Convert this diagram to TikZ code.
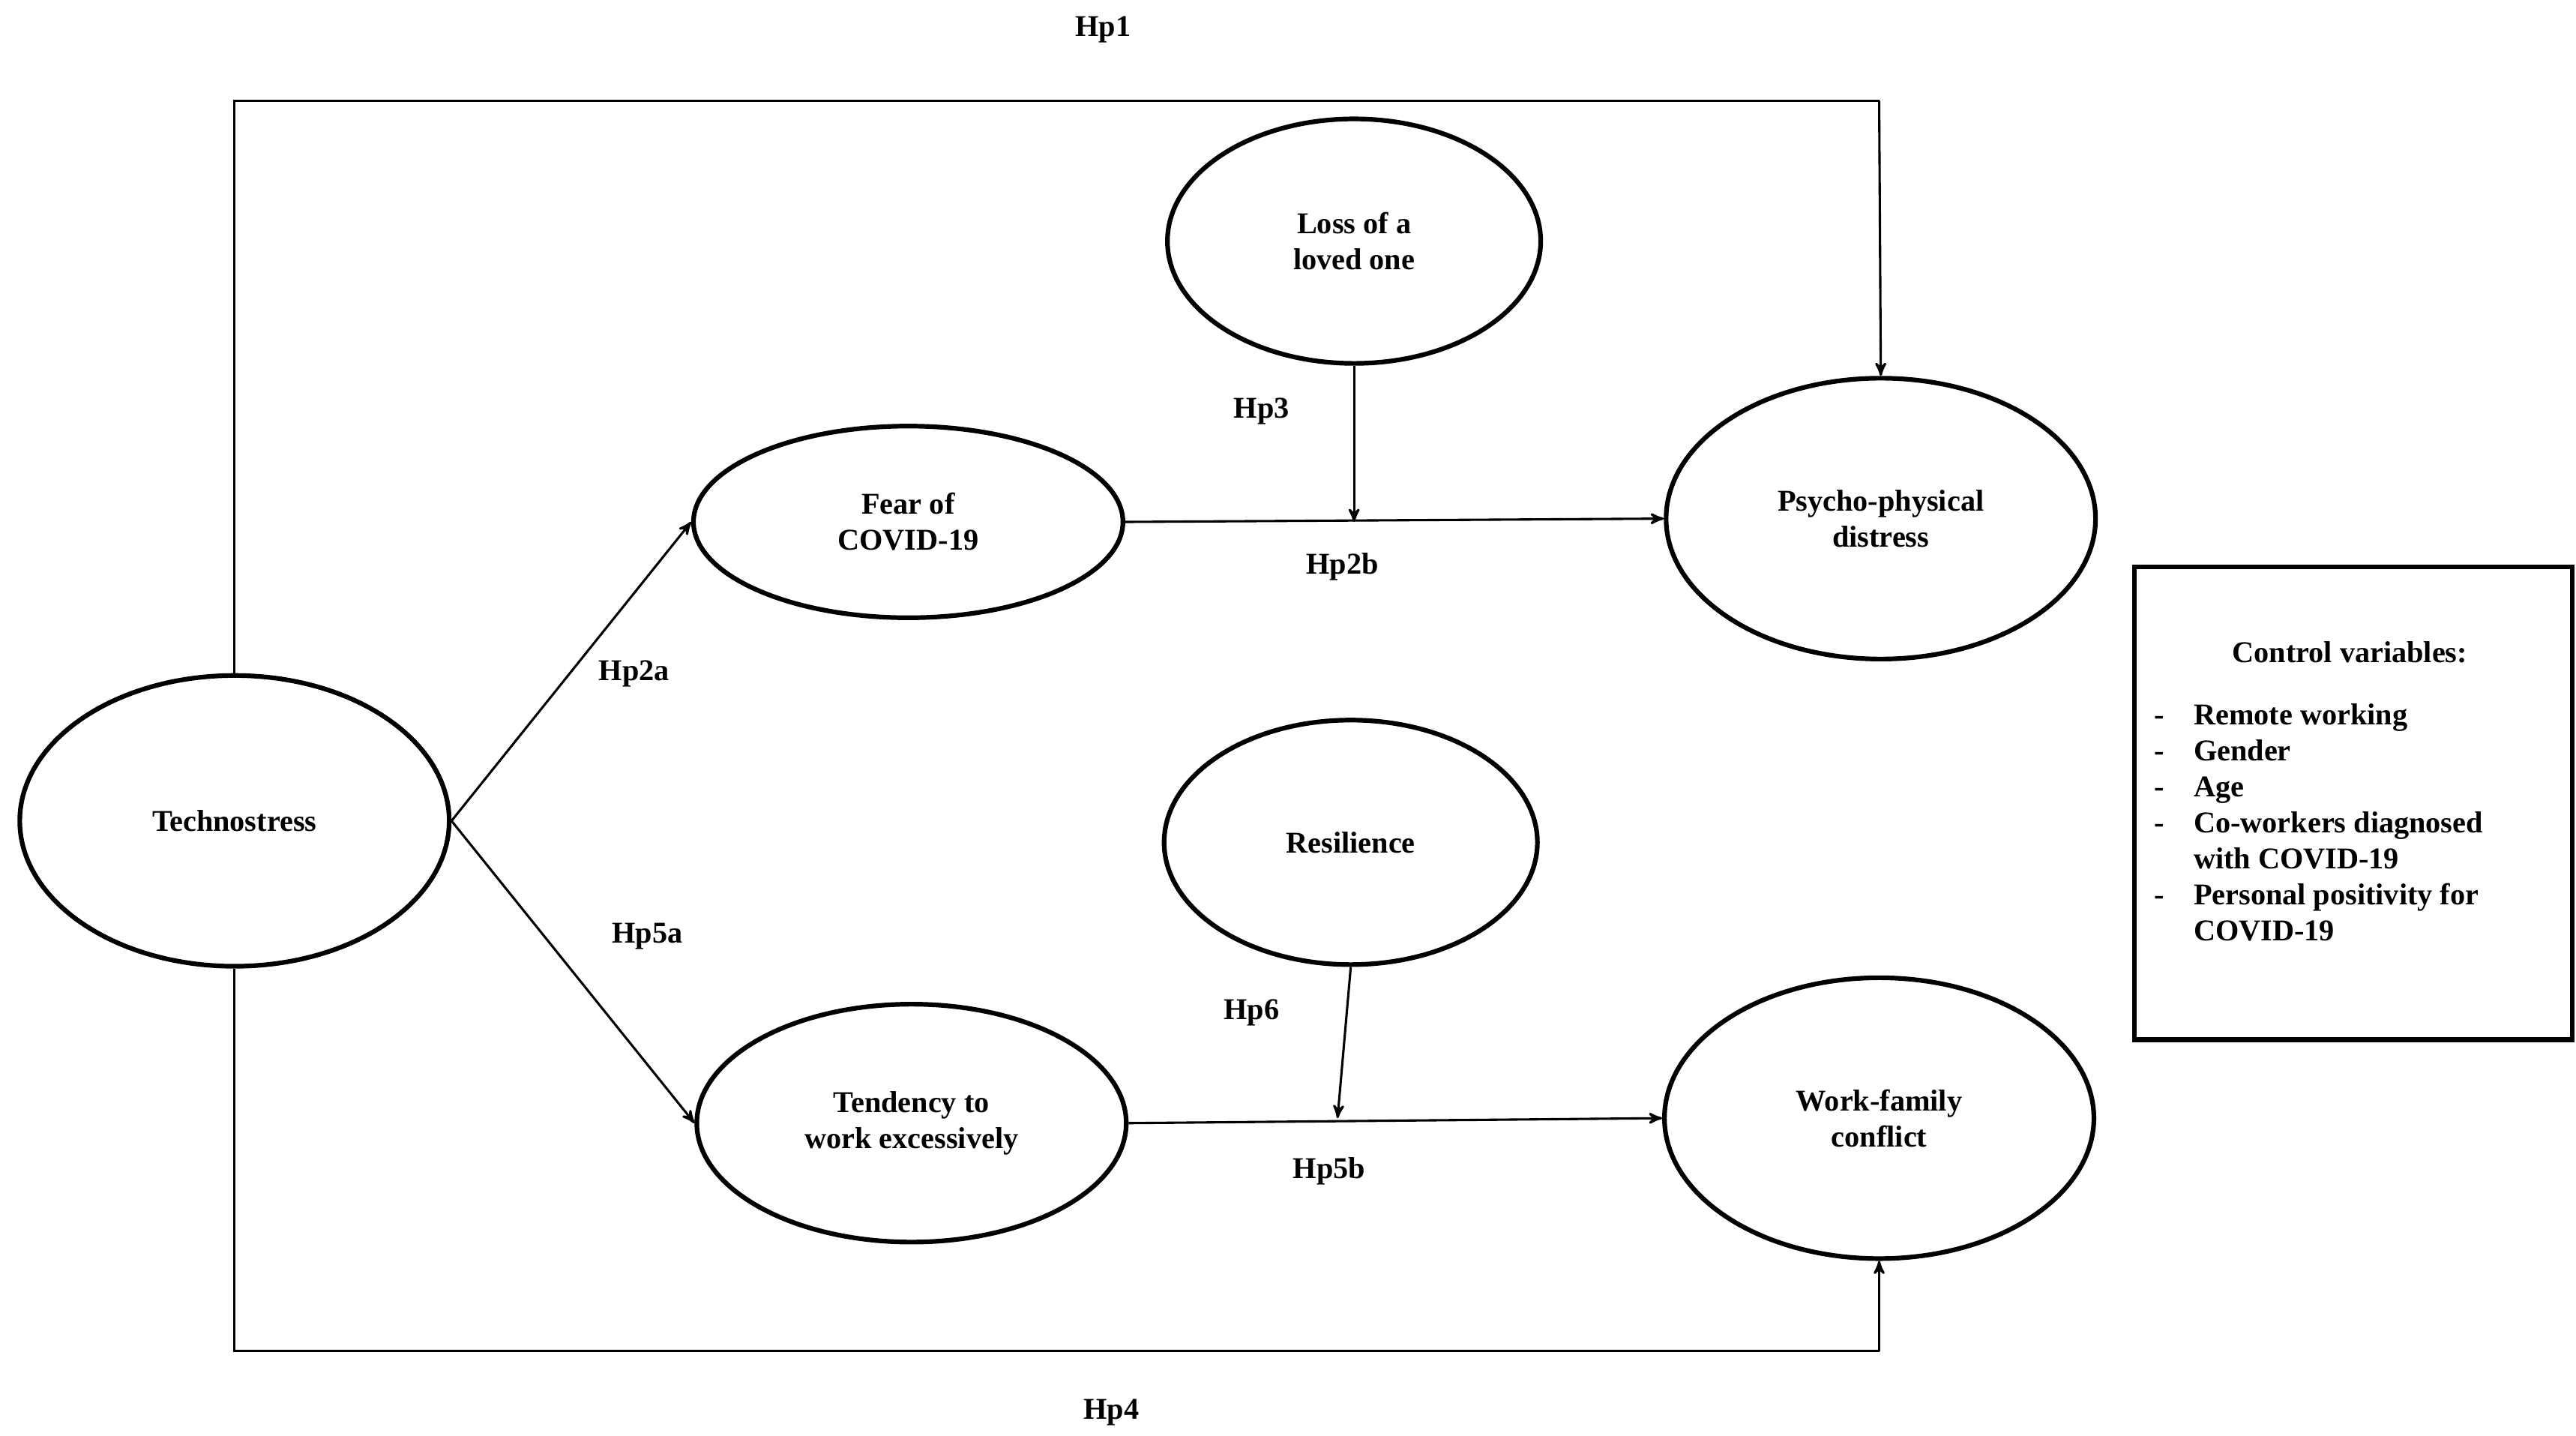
\documentclass[tikz,border=0pt]{standalone}
\usepackage{fontspec}
\setmainfont{Liberation Serif}
\usetikzlibrary{arrows,shapes.geometric}

\begin{document}
\begin{tikzpicture}[x=0.025cm,y=-0.025cm,->,>=stealth',line width=1pt,
  every node/.style={font=\fontsize{13}{15.5}\selectfont\bfseries,align=center},
  main node/.style={ellipse,draw,line width=2pt,inner sep=0pt},
  hyp/.style={font=\fontsize{13}{15.5}\selectfont\bfseries}]

  \useasboundingbox (0,0) rectangle (1560,869);

  \node[main node,minimum width=6.5cm,minimum height=4.4cm] (T) at (142,497) {Technostress};
  \node[main node,minimum width=6.5cm,minimum height=2.9cm] (F) at (550,316) {Fear of\\COVID-19};
  \node[main node,minimum width=5.65cm,minimum height=3.7cm] (L) at (820,146) {Loss of a\\loved one};
  \node[main node,minimum width=6.5cm,minimum height=4.25cm] (P) at (1139,314) {Psycho-physical\\distress};
  \node[main node,minimum width=5.65cm,minimum height=3.7cm] (R) at (818,510) {Resilience};
  \node[main node,minimum width=6.5cm,minimum height=3.6cm] (W) at (552,680) {Tendency to\\work excessively};
  \node[main node,minimum width=6.5cm,minimum height=4.25cm] (C) at (1138,677) {Work-family\\conflict};

  \node[draw,line width=2pt,minimum width=6.63cm,minimum height=7.15cm,anchor=north west,
    align=left,inner sep=0pt] (box) at (1291,342) {};
  \node[anchor=north] at (1423,383) {Control variables:};
  \node[anchor=north west,align=left] at (1299,418) {%
    \begin{tabular}{@{}l@{\hspace{0.45cm}}l@{}}
    - & Remote working\\
    - & Gender\\
    - & Age\\
    - & Co-workers diagnosed\\
      & with COVID-19\\
    - & Personal positivity for\\
      & COVID-19
    \end{tabular}};

  \coordinate (a1) at (142,61);
  \coordinate (a2) at (1138,61);
  \coordinate (b1) at (142,818);
  \coordinate (b2) at (1138,818);
  \coordinate (m1) at (820,316);
  \coordinate (m2) at (810,677);

  \draw[-] (T.north) -- (a1) -- (a2);
  \draw (a2) -- (P.north);
  \draw[-] (T.south) -- (b1) -- (b2);
  \draw (b2) -- (C.south);
  \draw (T.east) -- (F.west);
  \draw (T.east) -- (W.west);
  \draw (F.east) -- (P.west);
  \draw (W.east) -- (C.west);
  \draw (L.south) -- (m1);
  \draw (R.south) -- (m2);

  \node[hyp] at (668,18) {Hp1};
  \node[hyp] at (764,249) {Hp3};
  \node[hyp] at (813,343) {Hp2b};
  \node[hyp] at (384,408) {Hp2a};
  \node[hyp] at (392,567) {Hp5a};
  \node[hyp] at (758,613) {Hp6};
  \node[hyp] at (805,709) {Hp5b};
  \node[hyp] at (673,855) {Hp4};

\end{tikzpicture}
\end{document}
